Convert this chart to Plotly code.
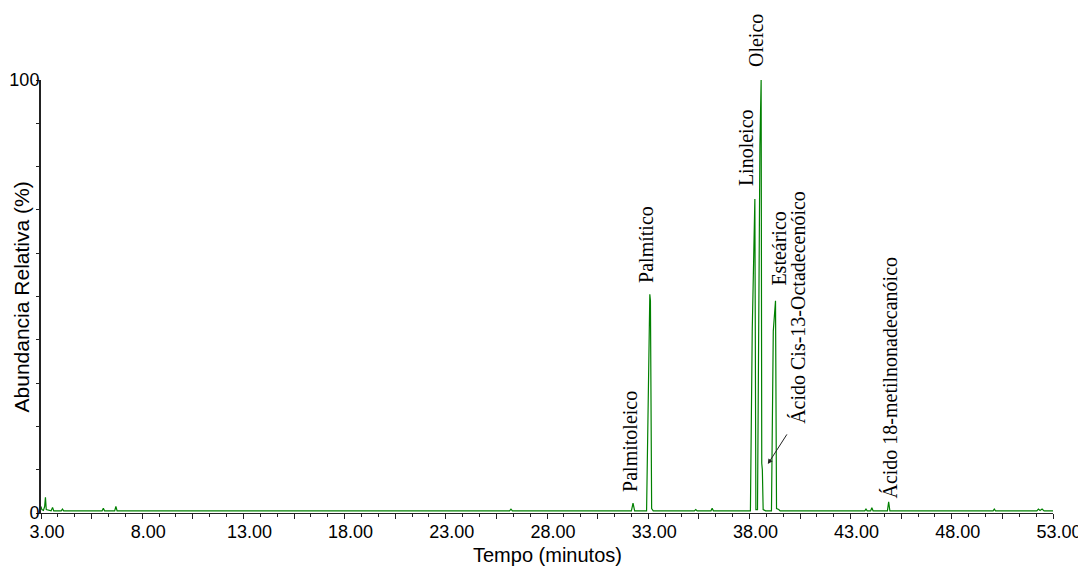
import plotly.graph_objects as go

# Chromatogram (time in minutes, relative abundance in %)
tempo = [3.00, 3.04, 3.12, 3.18, 3.22, 3.26, 3.50, 3.57, 3.63, 4.00, 4.06, 4.12,
         6.02, 6.08, 6.14, 6.64, 6.70, 6.76, 26.15, 26.22, 26.29,
         32.17, 32.25, 32.33, 32.92, 33.00, 33.05, 33.08, 33.11, 33.17, 33.25,
         35.28, 35.35, 35.42, 36.10, 36.16, 36.22,
         38.05, 38.14, 38.27, 38.32, 38.40, 38.52, 38.58, 38.61, 38.64, 38.68, 38.80,
         39.09, 39.18, 39.29, 39.34, 39.45, 39.52,
         43.70, 43.76, 43.82, 43.99, 44.05, 44.11, 44.82, 44.88, 44.94,
         50.04, 50.10, 50.16, 52.20, 52.28, 52.36, 52.46, 52.56, 53.00]
abundancia = [1.5, 0.8, 0.6, 1.5, 3.6, 0.8, 0.5, 1.3, 0.5, 0.5, 0.9, 0.5,
              0.5, 1.1, 0.5, 0.5, 1.5, 0.5, 0.5, 0.9, 0.5,
              0.5, 2.3, 0.5, 0.5, 30.0, 50.0, 50.5, 49.0, 1.0, 0.5,
              0.5, 0.8, 0.5, 0.5, 1.1, 0.5,
              0.5, 42.0, 72.5, 0.8, 0.8, 85.0, 100.0, 11.5, 10.0, 0.8, 0.5,
              0.5, 42.0, 49.0, 1.0, 0.8, 0.5,
              0.5, 0.9, 0.5, 0.5, 1.2, 0.5, 0.5, 2.6, 0.5,
              0.5, 0.9, 0.5, 0.5, 0.9, 0.6, 0.9, 0.5, 0.5]

# Peak labels: text, x (min), y (%) of label centre
rotulos = ["Palmitoleico", "Palmítico", "Linoleico", "Oleico", "Esteárico",
           "Ácido Cis-13-Octadecenóico", "Ácido 18-metilnonadecanóico"]
rotulo_x = [32.09, 32.88, 37.81, 38.32, 39.45, 40.40, 44.95]
rotulo_y = [16.6, 62.1, 84.4, 109.2, 61.0, 47.6, 31.3]

x_ticks = [3 + 2.5 * i for i in range(21)]
x_labels = [f"{v:.2f}" if i % 2 == 0 else "" for i, v in enumerate(x_ticks)]
y_ticks = list(range(0, 101, 10))
y_labels = ["0"] + [""] * 9 + ["100"]

fig = go.Figure()
fig.add_trace(go.Scatter(x=tempo, y=abundancia, mode="lines",
                         line=dict(color="#008000", width=1.2),
                         hoverinfo="skip", showlegend=False))

for t, x, y in zip(rotulos, rotulo_x, rotulo_y):
    fig.add_annotation(x=x, y=y / 100, xref="x", yref="paper", text=t, textangle=-90,
                       showarrow=False, xanchor="center", yanchor="middle",
                       font=dict(family="Times New Roman, Liberation Serif",
                                 size=20, color="black"))

# arrow for the Cis-13 peak
fig.add_annotation(x=38.91, y=11.3, ax=39.90, ay=18.5, xref="x", yref="y",
                   axref="x", ayref="y", text="", showarrow=True,
                   arrowhead=2, arrowsize=1, arrowwidth=1, arrowcolor="#222")

# axis titles
fig.add_annotation(x=-0.0188, y=0.5, xref="paper", yref="paper",
                   text="Abundancia Relativa (%)", textangle=-90, showarrow=False,
                   xanchor="center", yanchor="middle", font=dict(size=21))
fig.add_annotation(x=0.5, y=-0.098, xref="paper", yref="paper",
                   text="Tempo (minutos)", showarrow=False,
                   xanchor="center", yanchor="middle", font=dict(size=20))

fig.update_layout(
    width=1078, height=561,
    margin=dict(l=33, r=33, t=72, b=56),
    paper_bgcolor="white", plot_bgcolor="white",
    font=dict(family="Arial, Liberation Sans", color="black", size=17),
)
fig.update_xaxes(range=[3, 53], tickvals=x_ticks, ticktext=x_labels,
                 ticks="outside", ticklen=5, tickwidth=1, tickcolor="#222",
                 minor=dict(dtick=5 / 6, tick0=3, ticks="outside", ticklen=3,
                            tickcolor="#222", showgrid=False),
                 showline=True, linecolor="#222", linewidth=1,
                 showgrid=False, zeroline=False, automargin=False,
                 tickfont=dict(size=18), ticklabelshift=6, ticklabelstandoff=-3)
fig.update_yaxes(range=[0, 100], tickvals=y_ticks, ticktext=y_labels,
                 ticks="outside", ticklen=3, tickwidth=1, tickcolor="#222",
                 showline=True, linecolor="#222", linewidth=2,
                 showgrid=False, zeroline=False, automargin=False,
                 tickfont=dict(size=18), ticklabelstandoff=-7)

fig.write_html("out.html")
